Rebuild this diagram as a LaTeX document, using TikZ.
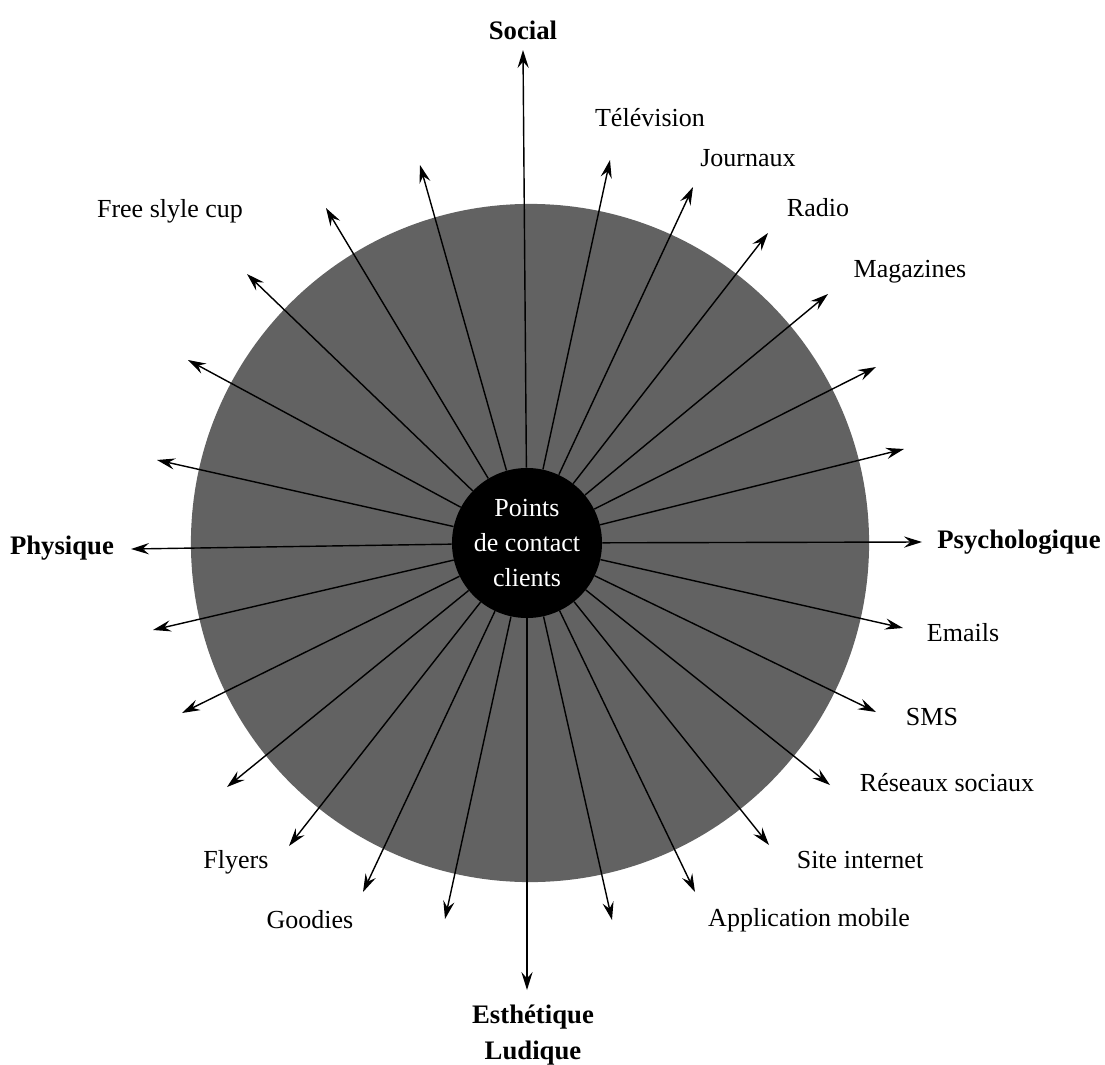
\documentclass[tikz,border=0pt]{standalone}
\usepackage{fontspec}
\setmainfont{Liberation Serif}
\usetikzlibrary{arrows.meta,backgrounds}
\definecolor{halftone}{HTML}{626262}

\begin{document}
\begin{tikzpicture}[
    x=0.025cm, y=-0.025cm,
    disc/.style={circle,fill=halftone,minimum size=16.95cm,inner sep=0pt},
    hub/.style={circle,fill=black,minimum size=3.75cm,inner sep=0pt,text=white,align=center,font=\fontsize{18.5}{25}\selectfont},
    ray/.style={-{Stealth[length=4.5mm,width=2.8mm,inset=1.6mm]},line width=1pt},
    lbl/.style={font=\fontsize{18.5}{22}\selectfont},
    axis/.style={font=\fontsize{19}{25}\selectfont\bfseries,align=center}
  ]
    \useasboundingbox (0,0) rectangle (1105,1065);

    \node[hub] (hub) at (527,543) {Points\\de contact\\clients};

    % arrow tips with a label
    \coordinate (tSocial) at (523,50);
    \coordinate (tTele) at (610,160);
    \coordinate (tJourn) at (693,187);
    \coordinate (tRadio) at (768,233);
    \coordinate (tMag) at (828,294);
    \coordinate (tPsy) at (922,542);
    \coordinate (tEmail) at (903,628);
    \coordinate (tSms) at (876,712);
    \coordinate (tReseau) at (830,785);
    \coordinate (tSite) at (769,845);
    \coordinate (tAppli) at (695,892);
    \coordinate (tEsth) at (527,990);
    \coordinate (tGoodies) at (363,892);
    \coordinate (tFlyers) at (289,846);
    \coordinate (tPhys) at (131,549);
    \coordinate (tFree) at (326,208);

    % axes (bold)
    \node[axis] (social) at (523,30) {Social};
    \node[axis] (psy) at (1019,542) {Psychologique};
    \node[axis] (phys) at (62,548) {Physique};
    \node[axis] (esth) at (533,1035) {Esthétique\\Ludique};

    % contact points
    \node[lbl] (tele) at (650,118) {Télévision};
    \node[lbl] (journ) at (748,158) {Journaux};
    \node[lbl] (radio) at (818,208) {Radio};
    \node[lbl] (mag) at (910,272) {Magazines};
    \node[lbl] (email) at (963,633) {Emails};
    \node[lbl] (sms) at (932,717) {SMS};
    \node[lbl] (reseau) at (947,783) {Réseaux sociaux};
    \node[lbl] (site) at (860,860) {Site internet};
    \node[lbl] (appli) at (809,920) {Application mobile};
    \node[lbl] (goodies) at (310,920) {Goodies};
    \node[lbl] (flyers) at (236,862) {Flyers};
    \node[lbl] (free) at (170,211) {Free slyle cup};

    \foreach \t in {tSocial,tTele,tJourn,tRadio,tMag,tPsy,tEmail,tSms,tReseau,tSite,tAppli,tEsth,tGoodies,tFlyers,tPhys,tFree}
      \draw[ray] (hub) -- (\t);

    % unlabelled arrows
    \foreach \x/\y [count=\i] in {876/367,904/449,612/920,445/919,227/787,182/713,153/630,157/460,188/360,247/274,420/165} {
      \coordinate (u\i) at (\x,\y);
      \draw[ray] (hub) -- (u\i);
    }

    \begin{scope}[on background layer]
      \node[disc] (disc) at (530,543) {};
    \end{scope}
  \end{tikzpicture}
\end{document}
